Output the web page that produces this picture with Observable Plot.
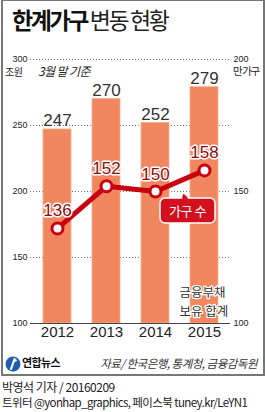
<!DOCTYPE html>
<html><head><meta charset="utf-8">
<script src="https://cdn.jsdelivr.net/npm/d3@7"></script>
<script src="https://cdn.jsdelivr.net/npm/@observablehq/plot@0.6"></script>
<style>
body{margin:0;background:#fff;}
#wrap{position:relative;width:266px;height:412px;overflow:hidden;font-family:"Noto Sans CJK KR","Liberation Sans",sans-serif;color:#222;}
.frame{position:absolute;left:1px;top:0;width:264px;height:376px;box-sizing:border-box;border:2px solid #777;border-top-width:1px;}
.abs{position:absolute;white-space:nowrap;line-height:1;}
#plot{position:absolute;left:0;top:40px;}
</style></head><body>
<div id="wrap">
  <div class="frame"></div>
  <div class="abs" style="left:12px;top:8px;font-size:23px;letter-spacing:-2.4px;"><span style="font-weight:700;color:#111">한계가구</span><span style="font-weight:400;color:#222"> 변동 현황</span></div>
  <div class="abs" style="left:5px;top:67px;font-size:10px;letter-spacing:-0.5px;">조원</div>
  <div class="abs" style="left:38px;top:65px;font-size:12px;font-style:italic;letter-spacing:-0.6px;">3월 말 기준</div>
  <div class="abs" style="left:233px;top:66px;font-size:10.5px;letter-spacing:-1.4px;">만 가구</div>
  <div id="plot"></div>
  <svg class="abs" style="left:158px;top:190px" width="60" height="36">
    <polygon points="23,9 25,2.5 33,9" fill="#D2101E" stroke="#fff" stroke-width="1.5"/>
    <rect x="2" y="8" width="55" height="25" rx="5" fill="#D2101E" stroke="#fff" stroke-width="1.5"/>
    <polygon points="23.8,10 25.3,4 31.5,10" fill="#D2101E"/>
    <text x="29.5" y="25.5" text-anchor="middle" fill="#fff" font-size="13" letter-spacing="-0.5" font-family="Noto Sans CJK KR">가구 수</text>
  </svg>
  <svg class="abs" style="left:4px;top:355px" width="18" height="18">
    <circle cx="9" cy="9" r="7.5" fill="#1d5fae"/>
    <path d="M10.5,4 L7,14" stroke="#fff" stroke-width="2.2" stroke-linecap="round"/>
    <circle cx="11.5" cy="5.5" r="1.3" fill="#fff"/>
  </svg>
  <div class="abs" style="left:22px;top:357px;font-size:11px;font-weight:700;letter-spacing:-0.6px;color:#111">연합뉴스</div>
  <div class="abs" style="right:9px;top:358px;font-size:11.5px;font-style:italic;letter-spacing:-0.5px;color:#333">자료/ 한국은행, 통계청, 금융감독원</div>
  <div class="abs" style="left:2px;top:381px;font-size:12px;letter-spacing:-0.5px;color:#222">박영석 기자 / 20160209</div>
  <div class="abs" style="left:2px;top:397px;font-size:11.5px;letter-spacing:-0.6px;color:#222">트위터 @yonhap_graphics, 페이스북 tuney.kr/LeYN1</div>
</div>
<script>
const years = ["2012", "2013", "2014", "2015"];
const debt = [247, 270, 252, 279];          // 금융부채 보유 합계 (조원)
const households = [136, 152, 150, 158];    // 가구 수 (만 가구)
const leftTicks = [100, 150, 200, 250, 300];
const rightTicks = [100, 150, 200];
const leftDomain = [100, 300];
const rightDomain = [100, 200];
const noteLines = ["금융부채", "보유 합계"];

const k = (leftDomain[1] - leftDomain[0]) / (rightDomain[1] - rightDomain[0]);
const toLeft = v => leftDomain[0] + (v - rightDomain[0]) * k;
const fromLeft = v => rightDomain[0] + (v - leftDomain[0]) / k;

const rows = years.map((year, i) => ({year, debt: debt[i], hh: households[i]}));
const narrow = "Liberation Sans Narrow, Liberation Sans, sans-serif";
const red = "#C8000F";
const noteStyle = {x: () => years[3], frameAnchor: "bottom", textAnchor: "start", lineAnchor: "bottom", dx: -25, fontSize: 12.5, fill: "#333", stroke: "#fff", strokeWidth: 2.5, fontFamily: "Noto Sans CJK KR", text: d => d};

const chart = Plot.plot({
  width: 266,
  height: 305,
  marginTop: 19,
  marginBottom: 22,
  marginLeft: 30,
  marginRight: 36,
  x: {domain: years, paddingInner: 0.434, paddingOuter: 0.242},
  y: {domain: leftDomain},
  style: {fontFamily: narrow, overflow: "visible", background: "transparent"},
  marks: [
    Plot.gridY(leftTicks.slice(1), {stroke: "#777", strokeOpacity: 1, strokeDasharray: "1,2"}),
    Plot.barY(rows, {x: "year", y1: () => leftDomain[0], y2: "debt", fill: "#F0875F", stroke: "#F5AE8C", strokeWidth: 0.8}),
    Plot.ruleY([leftDomain[0]], {stroke: "#444", strokeWidth: 1}),
    Plot.axisY(leftTicks, {anchor: "left", tickSize: 0, tickPadding: 3, fontSize: 9, fill: "#222", label: null}),
    Plot.axisY(rightTicks.map(toLeft), {anchor: "right", tickSize: 0, tickPadding: 3, fontSize: 9, fill: "#222", tickFormat: d => fromLeft(d), label: null}),
    Plot.axisX({tickSize: 0, tickPadding: 3, fontSize: 15, fill: "#222", label: null}),
    Plot.text(rows, {x: "year", y: "debt", text: "debt", lineAnchor: "bottom", dy: -3, fontSize: 17, fill: "#333"}),
    Plot.line(rows, {x: "year", y: d => toLeft(d.hh), stroke: red, strokeWidth: 5}),
    Plot.dot(rows, {x: "year", y: d => toLeft(d.hh), r: 5.5, fill: "#fff", stroke: red, strokeWidth: 3, symbol: "circle"}),
    Plot.text(rows, {x: "year", y: d => toLeft(d.hh), text: "hh", lineAnchor: "bottom", dy: -12, fontSize: 17, fill: "#8a0c0c", stroke: "#fff", strokeWidth: 3}),
    Plot.text([noteLines[0]], {...noteStyle, dy: -27}),
    Plot.text([noteLines[1]], {...noteStyle, dy: -8})
  ]
});
document.getElementById("plot").appendChild(chart);
</script>
</body></html>
